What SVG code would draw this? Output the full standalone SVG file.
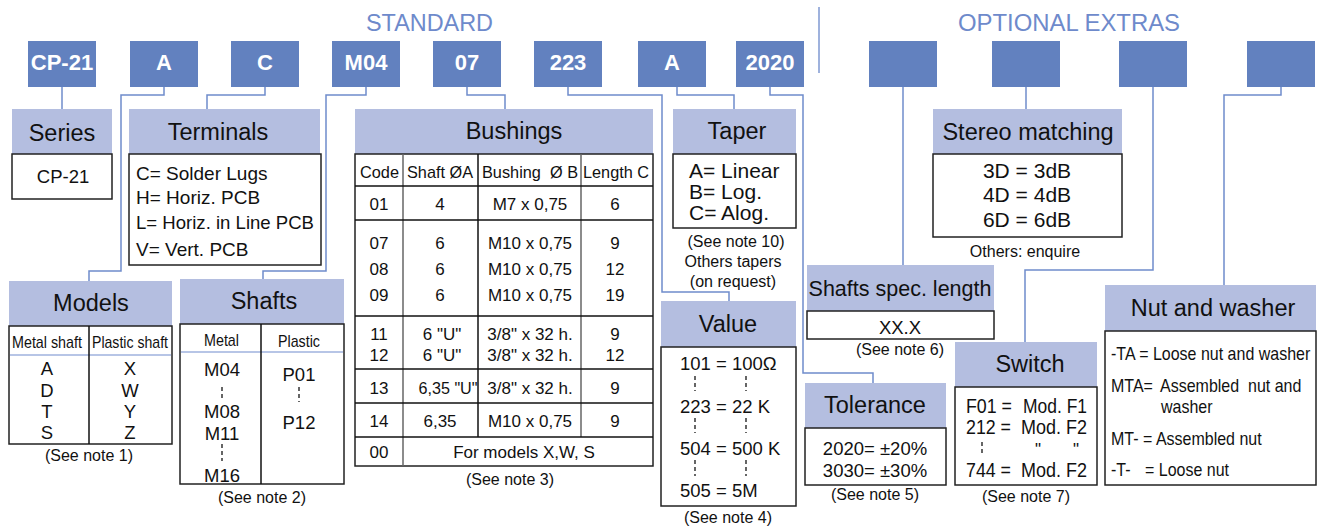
<svg xmlns="http://www.w3.org/2000/svg" width="1318" height="526" viewBox="0 0 1318 526">
<style>
text{font-family:"Liberation Sans",Arial,sans-serif;fill:#111}
.code{fill:#6281BF}
.ct{fill:#fff;font-weight:bold;font-size:22px;text-anchor:middle}
.hd{fill:#B4BEE0}
.ht{font-size:23.5px;text-anchor:middle}
.bd{fill:#fff;stroke:#222;stroke-width:1.5}
.conn{fill:none;stroke:#6F8CCB;stroke-width:1.5}
.note{font-size:16px;text-anchor:middle}
.m{text-anchor:middle}
.dash{stroke:#000;stroke-width:1.2;stroke-dasharray:4 3}
.sec{fill:#6E8ACB;font-size:24px}
.tl{stroke:#111;stroke-width:1.5}
.tg{stroke:#666;stroke-width:1.5}
.lb{stroke:#9FB2DE;stroke-width:1.5}
.t16{font-size:16px}
.t17{font-size:17px}
.t18{font-size:18.5px}
.t19{font-size:19px}
.t20{font-size:20px}
.t21{font-size:21px}
.dit{font-size:17px;text-anchor:middle}
</style>

<g id="section-labels">
<text class="sec" x="366" y="31" textLength="127" lengthAdjust="spacingAndGlyphs">STANDARD</text>
<text class="sec" x="958" y="31" textLength="222" lengthAdjust="spacingAndGlyphs">OPTIONAL EXTRAS</text>
<line x1="819" y1="7" x2="819" y2="73" stroke="#7F99D2" stroke-width="1.5"/>
</g>

<g id="connectors">
<path class="conn" d="M62,87 V109"/>
<path class="conn" d="M164,87 V95 H121 V271 H89 V281"/>
<path class="conn" d="M265,87 V95 H207 V109"/>
<path class="conn" d="M366,87 V95 H326 V271 H263 V279"/>
<path class="conn" d="M467,87 V95 H505 V109"/>
<path class="conn" d="M568,87 V95 H662 V292 H729 V301"/>
<path class="conn" d="M677,87 V95 H734 V109"/>
<path class="conn" d="M770,87 V95 H803 V373 H873 V383"/>
<path class="conn" d="M903,87 V265"/>
<path class="conn" d="M1026,87 V109"/>
<path class="conn" d="M1153,87 V270 H1025 V342"/>
<path class="conn" d="M1281,87 V95 H1224 V285"/>
</g>

<g id="code-cp21"><rect class="code" x="28" y="41" width="68" height="46"/><text class="ct" x="62" y="70">CP-21</text></g>
<g id="code-a"><rect class="code" x="130" y="41" width="68" height="46"/><text class="ct" x="164" y="70">A</text></g>
<g id="code-c"><rect class="code" x="231" y="41" width="68" height="46"/><text class="ct" x="265" y="70">C</text></g>
<g id="code-m04"><rect class="code" x="332" y="41" width="68" height="46"/><text class="ct" x="366" y="70">M04</text></g>
<g id="code-07"><rect class="code" x="433" y="41" width="68" height="46"/><text class="ct" x="467" y="70">07</text></g>
<g id="code-223"><rect class="code" x="534" y="41" width="68" height="46"/><text class="ct" x="568" y="70">223</text></g>
<g id="code-a2"><rect class="code" x="638" y="41" width="68" height="46"/><text class="ct" x="672" y="70">A</text></g>
<g id="code-2020"><rect class="code" x="736" y="41" width="68" height="46"/><text class="ct" x="770" y="70">2020</text></g>
<g id="code-opt1"><rect class="code" x="869" y="41" width="68" height="46"/></g>
<g id="code-opt2"><rect class="code" x="992" y="41" width="68" height="46"/></g>
<g id="code-opt3"><rect class="code" x="1119" y="41" width="68" height="46"/></g>
<g id="code-opt4"><rect class="code" x="1247" y="41" width="68" height="46"/></g>

<g id="series">
<rect class="hd" x="12" y="109" width="100" height="45"/>
<text class="ht" x="62" y="141">Series</text>
<rect class="bd" x="12" y="154" width="100" height="45"/>
<text class="t18 m" x="63" y="183">CP-21</text>
</g>

<g id="terminals">
<rect class="hd" x="129" y="109" width="191" height="45"/>
<text class="ht" x="218" y="140">Terminals</text>
<rect class="bd" x="129" y="154" width="192" height="111"/>
<text class="t19" x="136" y="180">C= Solder Lugs</text>
<text class="t19" x="136" y="204">H= Horiz. PCB</text>
<text class="t19" x="136" y="229" textLength="178" lengthAdjust="spacingAndGlyphs">L= Horiz. in Line PCB</text>
<text class="t19" x="136" y="256">V= Vert. PCB</text>
</g>

<g id="bushings">
<rect class="hd" x="355" y="109" width="298" height="45"/>
<text class="ht" x="514" y="139">Bushings</text>
<rect class="bd" x="355" y="154" width="298" height="312"/>
<line class="tg" x1="403" y1="154" x2="403" y2="466"/>
<line class="tl" x1="478" y1="154" x2="478" y2="437"/>
<line class="tg" x1="581" y1="154" x2="581" y2="437"/>
<line class="tl" x1="355" y1="186" x2="653" y2="186"/>
<line class="tl" x1="355" y1="220" x2="653" y2="220"/>
<line class="tl" x1="355" y1="316" x2="653" y2="316"/>
<line class="tl" x1="355" y1="369" x2="653" y2="369"/>
<line class="tl" x1="355" y1="403" x2="653" y2="403"/>
<line class="tl" x1="355" y1="437" x2="653" y2="437"/>
<text class="t17" x="360" y="178" textLength="39" lengthAdjust="spacingAndGlyphs">Code</text>
<text class="t17" x="407" y="178" textLength="66" lengthAdjust="spacingAndGlyphs">Shaft ØA</text>
<text class="t17" x="482" y="178" textLength="96" lengthAdjust="spacingAndGlyphs" xml:space="preserve">Bushing  Ø B</text>
<text class="t17" x="583" y="178" textLength="66" lengthAdjust="spacingAndGlyphs">Length C</text>
<g class="t17 m">
<text x="379" y="210">01</text><text x="440" y="210">4</text><text x="530" y="210">M7 x 0,75</text><text x="615" y="210">6</text>
<text x="379" y="249">07</text><text x="440" y="249">6</text><text x="530" y="249">M10 x 0,75</text><text x="615" y="249">9</text>
<text x="379" y="275">08</text><text x="440" y="275">6</text><text x="530" y="275">M10 x 0,75</text><text x="615" y="275">12</text>
<text x="379" y="301">09</text><text x="440" y="301">6</text><text x="530" y="301">M10 x 0,75</text><text x="615" y="301">19</text>
<text x="379" y="340">11</text><text x="442" y="340">6 "U"</text><text x="530" y="340">3/8" x 32 h.</text><text x="615" y="340">9</text>
<text x="379" y="361">12</text><text x="442" y="361">6 "U"</text><text x="530" y="361">3/8" x 32 h.</text><text x="615" y="361">12</text>
<text x="379" y="394">13</text><text x="448" y="394" textLength="59" lengthAdjust="spacingAndGlyphs">6,35 "U"</text><text x="530" y="394">3/8" x 32 h.</text><text x="615" y="394">9</text>
<text x="379" y="427">14</text><text x="440" y="427">6,35</text><text x="530" y="427">M10 x 0,75</text><text x="615" y="427">9</text>
<text x="379" y="458">00</text><text x="524" y="458">For models X,W, S</text>
</g>
<text class="note" x="510" y="485">(See note 3)</text>
</g>

<g id="models">
<rect class="hd" x="9" y="281" width="163" height="45"/>
<text class="ht" x="91" y="311">Models</text>
<rect class="bd" x="9" y="326" width="163" height="118"/>
<line class="lb" x1="10" y1="355" x2="171" y2="355"/>
<line class="tl" x1="89" y1="326" x2="89" y2="444"/>
<text class="t17" x="12" y="348" textLength="70" lengthAdjust="spacingAndGlyphs">Metal shaft</text>
<text class="t17" x="92" y="348" textLength="76" lengthAdjust="spacingAndGlyphs">Plastic shaft</text>
<g class="t18 m">
<text x="47" y="375">A</text><text x="47" y="397">D</text><text x="47" y="418">T</text><text x="47" y="439">S</text>
<text x="130" y="375">X</text><text x="130" y="397">W</text><text x="130" y="418">Y</text><text x="130" y="439">Z</text>
</g>
<text class="note" x="89" y="461">(See note 1)</text>
</g>

<g id="shafts">
<rect class="hd" x="180" y="279" width="164" height="45"/>
<text class="ht" x="264" y="309">Shafts</text>
<rect class="bd" x="180" y="324" width="164" height="160"/>
<line class="lb" x1="181" y1="352" x2="343" y2="352"/>
<line class="tl" x1="261" y1="324" x2="261" y2="484"/>
<text class="t17" x="204" y="346" textLength="35" lengthAdjust="spacingAndGlyphs">Metal</text>
<text class="t17" x="278" y="347" textLength="42" lengthAdjust="spacingAndGlyphs">Plastic</text>
<g class="t18 m">
<text x="222" y="376">M04</text><text x="222" y="418">M08</text><text x="222" y="440">M11</text><text x="222" y="482">M16</text>
<text x="299" y="381">P01</text><text x="299" y="429">P12</text>
</g>
<line class="dash" x1="222" y1="387" x2="222" y2="398"/>
<line class="dash" x1="222" y1="444" x2="222" y2="461"/>
<line class="dash" x1="299" y1="387" x2="299" y2="402"/>
<text class="note" x="262" y="503">(See note 2)</text>
</g>

<g id="taper">
<rect class="hd" x="673" y="109" width="123" height="45"/>
<text class="ht" x="737" y="139">Taper</text>
<rect class="bd" x="673" y="154" width="123" height="74"/>
<text class="t21" x="689" y="178">A= Linear</text>
<text class="t21" x="689" y="199">B= Log.</text>
<text class="t21" x="689" y="220">C= Alog.</text>
<text class="note" x="736" y="247">(See note 10)</text>
<text class="note" x="733" y="267">Others tapers</text>
<text class="note" x="733" y="287">(on request)</text>
</g>

<g id="value">
<rect class="hd" x="661" y="301" width="135" height="46"/>
<text class="ht" x="728" y="332">Value</text>
<rect class="bd" x="661" y="347" width="135" height="159"/>
<text class="t18" x="680" y="370">101 = 100Ω</text>
<text class="t18" x="680" y="413">223 = 22 K</text>
<text class="t18" x="680" y="455">504 = 500 K</text>
<text class="t18" x="680" y="497">505 = 5M</text>
<line class="dash" x1="695" y1="376" x2="695" y2="391"/>
<line class="dash" x1="746" y1="376" x2="746" y2="391"/>
<line class="dash" x1="695" y1="418" x2="695" y2="433"/>
<line class="dash" x1="746" y1="418" x2="746" y2="433"/>
<line class="dash" x1="695" y1="460" x2="695" y2="476"/>
<line class="dash" x1="746" y1="460" x2="746" y2="476"/>
<text class="note" x="728" y="523">(See note 4)</text>
</g>

<g id="shafts-spec-length">
<rect class="hd" x="807" y="265" width="187" height="46"/>
<text x="900" y="296" font-size="21.5" text-anchor="middle">Shafts spec. length</text>
<rect class="bd" x="807" y="311" width="187" height="28"/>
<text class="t18 m" x="900" y="334">XX.X</text>
<text class="note" x="900" y="355">(See note 6)</text>
</g>

<g id="tolerance">
<rect class="hd" x="805" y="383" width="141" height="45"/>
<text class="ht" x="875" y="413">Tolerance</text>
<rect class="bd" x="805" y="428" width="141" height="57"/>
<text class="t18 m" x="875" y="455">2020= ±20%</text>
<text class="t18 m" x="875" y="477">3030= ±30%</text>
<text class="note" x="875" y="500">(See note 5)</text>
</g>

<g id="stereo-matching">
<rect class="hd" x="933" y="109" width="189" height="45"/>
<text class="ht" x="1028" y="140">Stereo matching</text>
<rect class="bd" x="933" y="154" width="189" height="83"/>
<text class="t21 m" x="1027" y="178">3D = 3dB</text>
<text class="t21 m" x="1027" y="202">4D = 4dB</text>
<text class="t21 m" x="1027" y="227">6D = 6dB</text>
<text class="note" x="1025" y="257">Others: enquire</text>
</g>

<g id="switch">
<rect class="hd" x="955" y="342" width="142" height="45"/>
<text class="ht" x="1030" y="372">Switch</text>
<rect class="bd" x="955" y="387" width="142" height="98"/>
<text class="t20" x="966" y="413" textLength="46" lengthAdjust="spacingAndGlyphs">F01 =</text>
<text class="t20" x="1023" y="413" textLength="64" lengthAdjust="spacingAndGlyphs">Mod. F1</text>
<text class="t20" x="966" y="434" textLength="45" lengthAdjust="spacingAndGlyphs">212 =</text>
<text class="t20" x="1021" y="434" textLength="66" lengthAdjust="spacingAndGlyphs">Mod. F2</text>
<line class="dash" x1="982" y1="442" x2="982" y2="456"/>
<text class="dit" x="1038" y="455">"</text>
<text class="dit" x="1076" y="455">"</text>
<text class="t20" x="966" y="477" textLength="45" lengthAdjust="spacingAndGlyphs">744 =</text>
<text class="t20" x="1021" y="477" textLength="66" lengthAdjust="spacingAndGlyphs">Mod. F2</text>
<text class="note" x="1026" y="502">(See note 7)</text>
</g>

<g id="nut-and-washer">
<rect class="hd" x="1105" y="285" width="211" height="46"/>
<text class="ht" x="1213" y="316">Nut and washer</text>
<rect class="bd" x="1105" y="331" width="211" height="154"/>
<g class="t16">
<text transform="translate(1111,360) scale(1,1.15)">-TA = Loose nut and washer</text>
<text transform="translate(1111,392) scale(1,1.15)">MTA=</text>
<text transform="translate(1160,392) scale(1,1.15)" xml:space="preserve">Assembled  nut and</text>
<text transform="translate(1161,413) scale(1,1.15)">washer</text>
<text transform="translate(1111,445) scale(1,1.15)">MT- = Assembled nut</text>
<text transform="translate(1111,476) scale(1,1.15)">-T-</text>
<text transform="translate(1145,476) scale(1,1.15)">= Loose nut</text>
</g>
</g>
</svg>
